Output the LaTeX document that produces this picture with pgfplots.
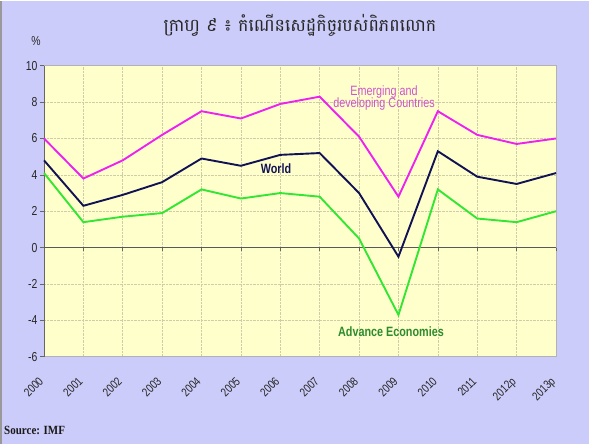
\documentclass[border=0pt]{standalone}
\usepackage{pgfplots}
\pgfplotsset{compat=1.18}
\usepackage{fontspec}
\setmainfont{Liberation Sans}
\newfontfamily\khmerfont[Script=Khmer]{Battambang}
\newfontfamily\srcfont[FakeStretch=0.88]{Liberation Serif}
\newfontfamily\narrowfont[FakeStretch=0.8]{Liberation Sans}
\definecolor{outerbg}{HTML}{CCCCFA}
\definecolor{plotbg}{HTML}{FFFFCC}
\definecolor{gridc}{HTML}{CDCDA8}
\definecolor{emerg}{HTML}{EE22EE}
\definecolor{world}{HTML}{111155}
\definecolor{adv}{HTML}{33E633}
\definecolor{emergtxt}{HTML}{CC55CC}
\definecolor{advtxt}{HTML}{2E8B2E}
\begin{document}
\begin{tikzpicture}[x=1pt,y=1pt]
\fill[outerbg] (0,0) rectangle (589,443);
\draw[gray!80, line width=1.5pt] (0.75,0) -- (0.75,443);
\begin{axis}[
  at={(44pt,87pt)}, anchor=south west,
  width=512pt, height=291pt, scale only axis,
  xmin=0, xmax=13, ymin=-6, ymax=10,
  ytick={-6,-4,...,10},
  xtick={0,...,13},
  xticklabels={2000,2001,2002,2003,2004,2005,2006,2007,2008,2009,2010,2011,2012p,2013p},
  axis background/.style={fill=plotbg},
  grid=major,
  grid style={densely dotted, gridc, line width=0.6pt},
  axis line style={black!30, line width=1pt},
  tick align=outside,
  ytick pos=left,
  xtick pos=bottom,
  major x tick style={draw=none},
  major y tick style={black!60, line width=0.6pt},
  major tick length=4pt,
  /pgf/number format/assume math mode=true,
  yticklabel style={font=\narrowfont\fontsize{13}{13}\selectfont, text=black!85, xshift=1pt},
  xticklabel style={font=\narrowfont\fontsize{12}{12}\selectfont, text=black!85, xshift=-6pt, yshift=-14pt, rotate=45, anchor=north east, inner sep=1pt},
  clip=false,
]
\draw[black!60, line width=0.6pt] (rel axis cs:0,0) -- (rel axis cs:0,1);
\draw[black!65, line width=0.9pt] (axis cs:0,0) -- (axis cs:13,0);
\pgfplotsinvokeforeach{0,...,13}{\draw[black!60, line width=0.6pt] (axis cs:#1,0) -- ++(0pt,-3.5pt);}
\addplot[emerg, line width=1.9pt] coordinates {
(0,6.0) (1,3.8) (2,4.8) (3,6.2) (4,7.5) (5,7.1) (6,7.9) (7,8.3) (8,6.1) (9,2.8) (10,7.5) (11,6.2) (12,5.7) (13,6.0)};
\addplot[world, line width=1.9pt] coordinates {
(0,4.8) (1,2.3) (2,2.9) (3,3.6) (4,4.9) (5,4.5) (6,5.1) (7,5.2) (8,3.0) (9,-0.5) (10,5.3) (11,3.9) (12,3.5) (13,4.1)};
\addplot[adv, line width=1.9pt] coordinates {
(0,4.1) (1,1.4) (2,1.7) (3,1.9) (4,3.2) (5,2.7) (6,3.0) (7,2.8) (8,0.5) (9,-3.7) (10,3.2) (11,1.6) (12,1.4) (13,2.0)};
\end{axis}
\node[font=\narrowfont\fontsize{13}{13}\selectfont, text=black!85] at (36,403) {\%};
\node[font=\khmerfont\fontsize{17.5}{17.5}\selectfont, text=black!85] at (300,418) {ក្រាហ្វ ៩ ៖ កំណើនសេដ្ឋកិច្ចរបស់ពិភពលោក};
\node[font=\narrowfont\fontsize{13.5}{13.5}\selectfont, text=emergtxt, align=center, inner sep=0pt] at (384,346) {Emerging and\\[-1.5pt]developing Countries};
\node[font=\narrowfont\bfseries\fontsize{13.5}{13.5}\selectfont, text=world] at (276,275) {World};
\node[font=\narrowfont\bfseries\fontsize{13.5}{13.5}\selectfont, text=advtxt] at (391,112) {Advance Economies};
\node[font=\srcfont\bfseries\fontsize{12.5}{12.5}\selectfont, text=black!90, anchor=west, inner sep=0pt] at (4,13) {Source: IMF};
\end{tikzpicture}
\end{document}
